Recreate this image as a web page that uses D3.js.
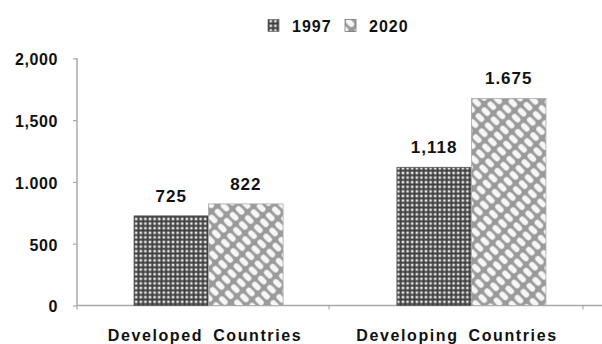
<!DOCTYPE html>
<html>
<head>
<meta charset="utf-8">
<script src="https://cdn.jsdelivr.net/npm/d3@7"></script>
<style>
  html, body { margin: 0; padding: 0; background: #fff; }
  svg { display: block; font-family: "Liberation Sans", Arial, sans-serif; }
</style>
</head>
<body>
<svg id="chart" width="602" height="344"></svg>
<script>
// Chart data
const categories = ["Developed Countries", "Developing Countries"];
const years = ["1997", "2020"];
const values1997 = [725, 1118];
const values2020 = [822, 1675];
const valueLabels1997 = ["725", "1,118"];
const valueLabels2020 = ["822", "1.675"];
const yTickValues = [0, 500, 1000, 1500, 2000];
const yTickLabels = ["0", "500", "1.000", "1,500", "2,000"];

const series = [
  { year: "1997", values: values1997, labels: valueLabels1997 },
  { year: "2020", values: values2020, labels: valueLabels2020 }
];

const svg = d3.select("#chart");
const defs = svg.append("defs");

// Fine square grid fill for 1997
const pGrid = defs.append("pattern")
  .attr("id", "pat1997").attr("patternUnits", "userSpaceOnUse")
  .attr("width", 4.6).attr("height", 4.6);
pGrid.append("rect").attr("width", 4.6).attr("height", 4.6).attr("fill", "#3e3e3e");
pGrid.append("rect").attr("x", 1.5).attr("y", 1.5).attr("width", 2.6).attr("height", 2.6).attr("fill", "#e4e4e4");

// Diagonal woven fill for 2020
const pWeave = defs.append("pattern")
  .attr("id", "pat2020").attr("patternUnits", "userSpaceOnUse")
  .attr("width", 13).attr("height", 8.4)
  .attr("patternTransform", "rotate(45)");
pWeave.append("rect").attr("width", 13).attr("height", 8.4).attr("fill", "#9a9a9a");
pWeave.append("rect").attr("x", 1.6).attr("y", 1.5).attr("width", 9.8).attr("height", 5.4)
  .attr("rx", 2.7).attr("fill", "#f6f6f6");

const softFilter = defs.append("filter").attr("id", "soft");
softFilter.append("feGaussianBlur").attr("stdDeviation", 0.5);

const fills = { "1997": "url(#pat1997)", "2020": "url(#pat2020)" };

// Scales
const y = d3.scaleLinear().domain([0, 2000]).range([305.5, 58.3]);
const x0 = d3.scaleBand().domain(categories).range([77, 603])
  .paddingInner(0.433).paddingOuter(0.217);
const x1 = d3.scaleBand().domain(years).range([0, x0.bandwidth()]);
const xCat = d3.scaleBand().domain(categories).range([79, 583]);

// Axes
const axisColor = "#a8a8a8";
const yAxis = svg.append("g").attr("transform", "translate(77,0)")
  .call(d3.axisLeft(y).tickValues(yTickValues).tickSize(4)
    .tickFormat((d, i) => yTickLabels[i]));
yAxis.select(".domain").attr("stroke", axisColor).attr("stroke-width", 1.5)
  .attr("d", `M0,${y(2000)}V${y(0)}`);
yAxis.selectAll(".tick line").attr("stroke", axisColor).attr("stroke-width", 1.2);
yAxis.selectAll(".tick text")
  .attr("x", -19).attr("dy", "0.4em")
  .attr("fill", "#111").style("font-size", "16px").style("font-weight", "bold")
  .style("letter-spacing", "0.6px").style("font-family", "'Liberation Sans', Arial, sans-serif");

svg.append("line").attr("x1", 77).attr("x2", 602).attr("y1", y(0)).attr("y2", y(0))
  .attr("stroke", axisColor).attr("stroke-width", 1.5);
svg.selectAll(".xtick").data([77, xCat(categories[1]) - 2, 583]).join("line")
  .attr("class", "xtick")
  .attr("x1", d => d).attr("x2", d => d).attr("y1", y(0)).attr("y2", y(0) + 4)
  .attr("stroke", axisColor).attr("stroke-width", 1.2);

// Bars
const groups = svg.append("g").attr("filter", "url(#soft)");
series.forEach(s => {
  groups.selectAll(null).data(categories).join("rect")
    .attr("x", (c) => x0(c) + x1(s.year))
    .attr("y", (c, i) => y(s.values[i]))
    .attr("width", x1.bandwidth())
    .attr("height", (c, i) => y(0) - y(s.values[i]))
    .attr("fill", fills[s.year])
    .attr("stroke", s.year === "1997" ? "#555" : "#aaa")
    .attr("stroke-width", 0.8);
});

// Value labels
series.forEach(s => {
  svg.selectAll(null).data(categories).join("text")
    .attr("x", c => x0(c) + x1(s.year) + x1.bandwidth() / 2)
    .attr("y", (c, i) => y(s.values[i]) - 14)
    .attr("text-anchor", "middle")
    .attr("fill", "#111")
    .style("font-size", "17px").style("font-weight", "bold").style("letter-spacing", "1px")
    .text((c, i) => s.labels[i]);
});

// Category labels
svg.selectAll(".cat").data(categories).join("text")
  .attr("class", "cat")
  .attr("x", c => xCat(c) + xCat.bandwidth() / 2)
  .attr("y", 341)
  .attr("text-anchor", "middle")
  .attr("fill", "#111")
  .style("font-size", "16px").style("font-weight", "bold")
  .style("letter-spacing", "1.6px").style("word-spacing", "4px")
  .text(c => c);

// Legend
const legendX = [268, 345];
const legend = svg.selectAll(".leg").data(years).join("g")
  .attr("class", "leg")
  .attr("transform", (d, i) => `translate(${legendX[i]},0)`);
legend.append("rect").attr("x", 0).attr("y", 19.5).attr("width", 11).attr("height", 12)
  .attr("fill", d => fills[d]).attr("stroke", "#666").attr("stroke-width", 0.7)
  .attr("filter", "url(#soft)");
legend.append("text").attr("x", 24).attr("y", 31.5)
  .attr("fill", "#111")
  .style("font-size", "16px").style("font-weight", "bold").style("letter-spacing", "1px")
  .text(d => d);
</script>
</body>
</html>
